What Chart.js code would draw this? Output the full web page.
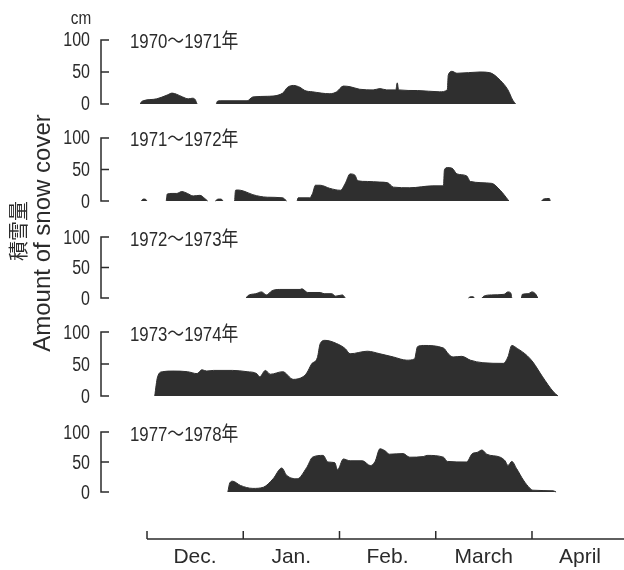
<!DOCTYPE html>
<html>
<head>
<meta charset="utf-8">
<script src="https://cdn.jsdelivr.net/npm/chart.js@4"></script>
<style>
  body { margin: 0; background: #fff; }
</style>
</head>
<body>
<canvas id="snow" width="624" height="570"></canvas>
<script>
// x = months counted from 1 Dec (each month the same width), y = snow depth in cm
// null = no snow cover (breaks the shape)
const months = ['Dec.', 'Jan.', 'Feb.', 'March', 'April'];
const seasons = ['1970〜1971年', '1971〜1972年', '1972〜1973年', '1973〜1974年', '1977〜1978年'];
const yTicks = [0, 50, 100];

const t1970 = [-0.07, -0.06, -0.04, 0.10, 0.21, 0.26, 0.31, 0.37, 0.43, 0.47, 0.50, 0.52, 0.60,
  0.72, 0.73, 0.76, 1.04, 1.10, 1.25, 1.41, 1.46, 1.52, 1.59, 1.64, 1.72, 1.90, 1.97, 2.04, 2.11, 2.21,
  2.35, 2.42, 2.49, 2.585, 2.60, 2.615, 2.81, 3.04, 3.12, 3.13, 3.17, 3.22, 3.46, 3.56, 3.67, 3.75, 3.80, 3.83];
const cm1970 = [0, 3, 5, 8, 14, 17, 15, 11, 8, 9, 7, 0, null,
  0, 4, 5, 5, 11, 12, 17, 26, 29, 26, 21, 19, 16, 19, 28, 27, 23,
  22, 24, 22, 22, 33, 22, 21, 19, 22, 45, 51, 48, 50, 49, 37, 22, 6, 0];

const t1971 = [-0.06, -0.04, -0.02, 0.00, 0.10,
  0.20, 0.21, 0.26, 0.31, 0.36, 0.42, 0.48, 0.55, 0.60, 0.63, 0.67,
  0.71, 0.74, 0.77, 0.79, 0.85,
  0.91, 0.92, 0.94, 1.00, 1.10, 1.25, 1.41, 1.45, 1.50,
  1.56, 1.57, 1.69, 1.72, 1.75, 1.80, 1.90, 2.01, 2.06, 2.11, 2.16, 2.19, 2.29, 2.42, 2.50, 2.56, 2.73,
  2.97, 3.08, 3.09, 3.12, 3.17, 3.22, 3.32, 3.36, 3.58, 3.67, 3.75, 3.76, 3.90,
  4.10, 4.12, 4.18, 4.19];
const cm1971 = [0, 3, 3, 0, null,
  0, 11, 12, 12, 15, 12, 8, 9, 4, 0, null,
  0, 3, 3, 0, null,
  0, 17, 17.5, 16, 10, 6, 5, 0, null,
  0, 5, 5, 12, 25, 25, 20, 17, 28, 43, 41, 32, 31, 30, 29, 22, 21,
  24, 24, 49, 53, 52, 43, 40, 31, 28, 17, 2, 0, null,
  0, 3, 4, 0];

const t1972 = [1.03, 1.05, 1.13, 1.19, 1.24, 1.30, 1.38, 1.59, 1.61, 1.67, 1.80, 1.84, 1.92, 1.96, 2.03, 2.06, 2.50,
  3.34, 3.36, 3.39, 3.40, 3.44,
  3.48, 3.50, 3.58, 3.71, 3.75, 3.78, 3.79, 3.84,
  3.89, 3.90, 3.96, 4.00, 4.04, 4.06];
const cm1972 = [0, 4, 7, 10, 5, 12, 14, 14, 15, 9, 9, 7, 7, 3, 5, 0, null,
  0, 2, 2, 0, null,
  0, 3, 5, 6, 10, 8, 0, null,
  0, 6, 7, 10, 6, 0];

const t1973 = [0.08, 0.11, 0.16, 0.27, 0.42, 0.52, 0.57, 0.62, 0.69, 0.89, 1.04, 1.14, 1.17, 1.23, 1.28,
  1.41, 1.52, 1.62, 1.66, 1.71, 1.77, 1.80, 1.85, 1.97, 2.06, 2.11, 2.29, 2.42, 2.56, 2.70, 2.78,
  2.81, 2.87, 3.08, 3.13, 3.18, 3.27, 3.36, 3.49, 3.70, 3.75, 3.79, 3.85, 3.95, 4.01, 4.11, 4.22, 4.27];
const cm1973 = [0, 30, 38, 39, 38, 35, 41, 39, 40, 40, 38, 35, 30, 40, 34,
  38, 26, 30, 36, 50, 60, 82, 87, 82, 74, 66, 70, 66, 61, 56, 58,
  77, 79, 75, 66, 61, 62, 56, 52, 51, 61, 79, 74, 63, 53, 30, 7, 0];

const t1977 = [0.84, 0.86, 0.89, 0.97, 1.10, 1.21, 1.31, 1.40, 1.45, 1.56, 1.66, 1.72, 1.83, 1.88, 1.95,
  1.98, 2.04, 2.11, 2.24, 2.32, 2.37, 2.42, 2.47, 2.52, 2.66, 2.73, 2.87, 2.91, 3.08, 3.12, 3.32,
  3.38, 3.43, 3.48, 3.53, 3.67, 3.72, 3.75, 3.79, 3.84, 3.91, 3.98, 4.01, 4.22, 4.25];
const cm1977 = [0, 15, 18, 11, 6, 8, 22, 40, 28, 22, 41, 58, 61, 50, 49,
  37, 55, 52, 52, 44, 51, 72, 69, 63, 64, 58, 59, 61, 58, 51, 50,
  64, 66, 70, 63, 58, 52, 44, 51, 39, 20, 6, 3, 2, 0];

const ink = '#2b2b2b';
const sans = '"Liberation Sans", "Noto Sans CJK JP", sans-serif';

const series = [[t1970, cm1970], [t1971, cm1971], [t1972, cm1972], [t1973, cm1973], [t1977, cm1977]];
// y range of every panel so that 0..100 cm lands on the printed bracket
const ranges = [[-21.9, 128.1, 96], [-25.4, 131.7, 99], [-27.9, 132.8, 98], [-25, 126.6, 97], [-78.3, 133.3, 127]];

const scales = {
  x: {
    type: 'linear', min: -0.104, max: 4.956,
    afterBuildTicks: s => { s.ticks = months.map((m, i) => ({ value: i })); },
    afterFit: s => { s.height = 31; },
    grid: { display: false, drawTicks: false },
    border: { display: false },
    ticks: {
      callback: (v, i) => months[i],
      labelOffset: 48, padding: 6, maxRotation: 0, autoSkip: false,
      color: ink, font: { family: '"Liberation Sans", sans-serif', size: 21 }
    }
  }
};
ranges.forEach((r, i) => {
  scales['y' + i] = {
    type: 'linear', min: r[0], max: r[1],
    stack: 'panels', stackWeight: r[2], weight: 5 - i,
    afterBuildTicks: s => { s.ticks = yTicks.map(v => ({ value: v })); },
    afterFit: s => { s.width = 137; s.paddingTop = 0; s.paddingBottom = 0; },
    grid: { display: false, drawTicks: false },
    border: { display: false },
    ticks: { display: false }
  };
});

// condensed text like the printed figure
function squeezed(ctx, text, x, y, sx, align) {
  ctx.save();
  ctx.translate(x, y);
  ctx.scale(sx, 1);
  ctx.textAlign = align;
  ctx.fillText(text, 0, 0);
  ctx.restore();
}

// bracket axes, panel titles, month line and axis title
const frame = {
  id: 'frame',
  afterDraw(chart) {
    const ctx = chart.ctx;
    const area = chart.chartArea;
    const x = chart.scales.x;
    ctx.save();
    ctx.strokeStyle = ink;
    ctx.fillStyle = ink;
    ctx.lineWidth = 1.5;
    ctx.textBaseline = 'middle';
    ranges.forEach((r, i) => {
      const s = chart.scales['y' + i];
      const top = s.getPixelForValue(100), mid = s.getPixelForValue(50), bot = s.getPixelForValue(0);
      ctx.beginPath();
      ctx.moveTo(109, top); ctx.lineTo(101, top); ctx.lineTo(101, bot); ctx.lineTo(109, bot);
      ctx.moveTo(101, mid); ctx.lineTo(109, mid);
      ctx.stroke();
      ctx.font = '20px ' + sans;
      yTicks.forEach(v => squeezed(ctx, String(v), 90, s.getPixelForValue(v) + 1, 0.8, 'right'));
      squeezed(ctx, seasons[i], 130, top + 3, 0.84, 'left');
    });
    const yb = area.bottom;
    ctx.beginPath();
    ctx.moveTo(x.getPixelForValue(0), yb);
    ctx.lineTo(area.right, yb);
    months.forEach((m, i) => {
      const px = x.getPixelForValue(i);
      ctx.moveTo(px, yb); ctx.lineTo(px, yb - 8);
    });
    ctx.stroke();

    ctx.font = '18px ' + sans;
    squeezed(ctx, 'cm', 81, 19, 0.85, 'center');

    ctx.translate(18, 231);
    ctx.rotate(-Math.PI / 2);
    ctx.textAlign = 'center';
    ctx.font = '20px "Noto Sans CJK JP", sans-serif';
    ctx.fillText('積雪量', 0, 0);
    ctx.font = '24px "Liberation Sans", sans-serif';
    ctx.fillText('Amount of snow cover', -2, 25);
    ctx.restore();
  }
};

new Chart(document.getElementById('snow').getContext('2d'), {
  type: 'line',
  data: {
    datasets: series.map((s, i) => ({
      label: seasons[i],
      yAxisID: 'y' + i,
      data: s[0].map((t, j) => ({ x: t, y: s[1][j] })),
      fill: 'origin',
      backgroundColor: '#2f2f2f',
      borderColor: '#2f2f2f',
      borderWidth: 1,
      pointRadius: 0,
      tension: 0.3,
      cubicInterpolationMode: 'monotone',
      spanGaps: false
    }))
  },
  options: {
    responsive: false,
    animation: false,
    devicePixelRatio: 1,
    layout: { padding: { left: 0, right: 0, top: 22, bottom: 0 } },
    plugins: { legend: { display: false }, tooltip: { enabled: false } },
    scales: scales
  },
  plugins: [frame]
});
</script>
</body>
</html>
